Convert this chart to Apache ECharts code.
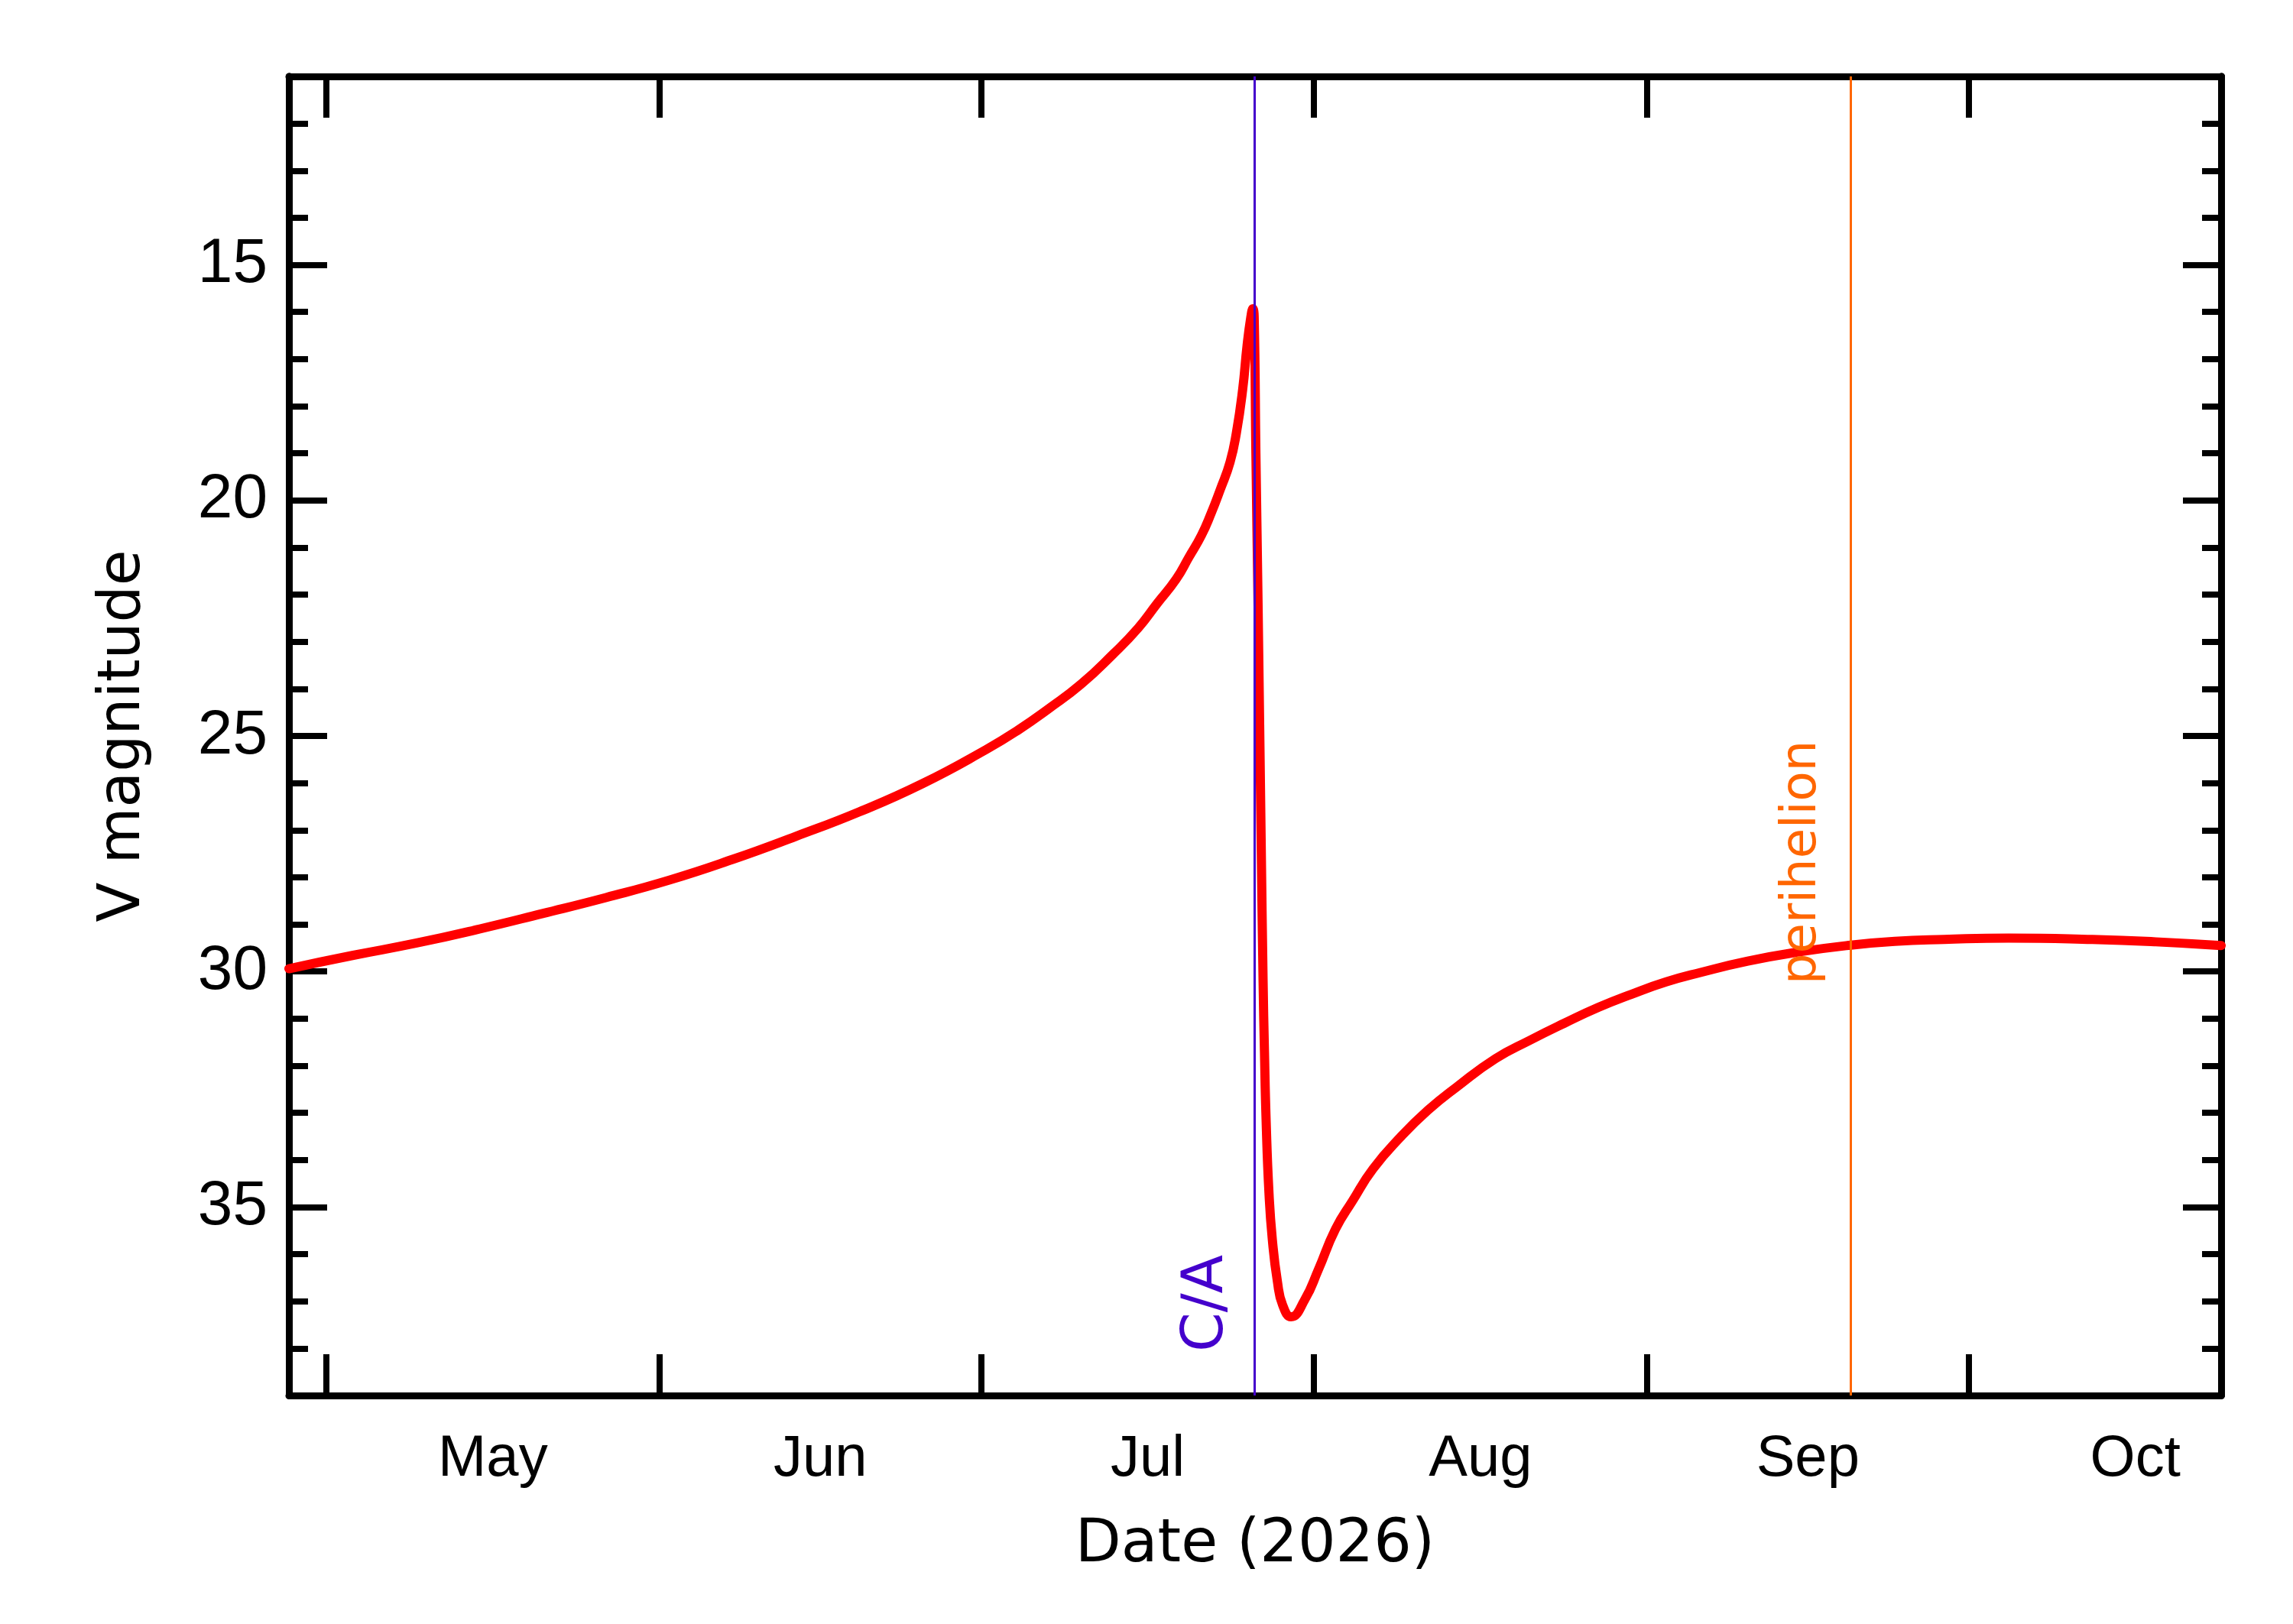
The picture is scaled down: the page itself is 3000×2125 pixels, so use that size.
<!DOCTYPE html>
<html>
<head>
<meta charset="utf-8">
<title>V magnitude (2026)</title>
<script src="https://cdn.jsdelivr.net/npm/echarts@6/dist/echarts.min.js"></script>
<style>
  html, body { margin: 0; padding: 0; background: #ffffff; }
  #main { width: 3000px; height: 2125px; }
</style>
</head>
<body>
<div id="main"></div>
<script>
// light curve (local time)
const dates = [
  '2026-04-27 12:00', '2026-05-03 09:50', '2026-05-09 07:25', '2026-05-15 05:15',
  '2026-05-21 03:05', '2026-05-27 00:45', '2026-06-01 22:20', '2026-06-07 19:55',
  '2026-06-13 17:30', '2026-06-19 15:20', '2026-06-25 12:55', '2026-07-01 10:35',
  '2026-07-04 09:35', '2026-07-07 08:25', '2026-07-10 07:10', '2026-07-13 06:00',
  '2026-07-15 14:40', '2026-07-17 09:05', '2026-07-19 03:50', '2026-07-20 07:55',
  '2026-07-21 12:15', '2026-07-22 09:35', '2026-07-23 06:40', '2026-07-24 04:05',
  '2026-07-24 18:15', '2026-07-25 08:25', '2026-07-25 18:15', '2026-07-26 02:55',
  '2026-07-26 07:10', '2026-07-26 10:05', '2026-07-26 13:55', '2026-07-26 18:55',
  '2026-07-27 01:40', '2026-07-27 06:00', '2026-07-27 09:05', '2026-07-27 12:55',
  '2026-07-27 19:10', '2026-07-28 02:40', '2026-07-28 14:10', '2026-07-29 01:40',
  '2026-07-29 20:40', '2026-07-31 03:05', '2026-08-01 09:35', '2026-08-02 23:45',
  '2026-08-04 13:55', '2026-08-06 11:45', '2026-08-09 00:45', '2026-08-11 13:55',
  '2026-08-14 07:10', '2026-08-17 21:35', '2026-08-21 02:25', '2026-08-24 07:10',
  '2026-08-27 12:00', '2026-08-30 14:25', '2026-09-02 19:10', '2026-09-06 00:00',
  '2026-09-10 09:35', '2026-09-15 00:00', '2026-09-20 00:00', '2026-09-24 02:25',
  '2026-09-28 16:50', '2026-10-04 16:50', '2026-10-12 12:00', '2026-10-18 09:35',
  '2026-10-24 12:00'
];
const vmag = [
  29.94, 29.66, 29.40, 29.10,
  28.77, 28.43, 28.06, 27.62,
  27.13, 26.61, 26.01, 25.29,
  24.88, 24.41, 23.90, 23.27,
  22.71, 22.19, 21.67, 21.21,
  20.74, 20.28, 19.76, 19.19,
  18.57, 17.64, 16.71, 16.09,
  15.93, 16.10, 19.00, 22.30,
  27.20, 30.20, 31.70, 33.20,
  34.70, 35.69, 36.59, 37.08,
  37.33, 36.97, 36.33, 35.47,
  34.87, 34.19, 33.52, 32.95,
  32.45, 31.85, 31.46, 31.10,
  30.76, 30.48, 30.22, 30.02,
  29.78, 29.59, 29.44, 29.36,
  29.32, 29.29, 29.32, 29.37,
  29.45
];

const monthStarts = ['2026-05-01 00:00', '2026-06-01 00:00', '2026-07-01 00:00',
                     '2026-08-01 00:00', '2026-09-01 00:00', '2026-10-01 00:00'];
const monthMids = ['2026-05-16 12:00', '2026-06-16 00:00', '2026-07-16 12:00',
                   '2026-08-16 12:00', '2026-09-16 00:00', '2026-10-16 12:00'];
const monthNames = ['Jan', 'Feb', 'Mar', 'Apr', 'May', 'Jun',
                    'Jul', 'Aug', 'Sep', 'Oct', 'Nov', 'Dec'];

const magMajor = [15, 20, 25, 30, 35];
const magMinor = [12, 13, 14, 16, 17, 18, 19, 21, 22, 23, 24, 26, 27, 28, 29,
                  31, 32, 33, 34, 36, 37, 38];

const dateMin = '2026-04-27 12:00';
const dateMax = '2026-10-24 12:00';
const magMin = 11;
const magMax = 39;

const caDate = '2026-07-26 11:00';     // close approach
const periDate = '2026-09-20 00:00';   // perihelion

// 'YYYY-MM-DD HH:mm' -> local timestamp
function ts(s) {
  const m = s.match(/(\d+)-(\d+)-(\d+) (\d+):(\d+)/);
  return new Date(+m[1], +m[2] - 1, +m[3], +m[4], +m[5]).getTime();
}

const seriesData = dates.map((d, i) => [ts(d), vmag[i]]);

function makeY(position, ticks, len, withLabels) {
  return {
    type: 'value',
    position: position,
    min: magMin,
    max: magMax,
    inverse: true,
    name: withLabels ? 'V magnitude' : '',
    nameLocation: 'middle',
    nameGap: 178,
    nameTextStyle: { fontFamily: 'DejaVu Sans', fontSize: 76, color: '#000' },
    axisLine: { show: true, onZero: false, lineStyle: { color: '#000', width: 9 } },
    axisTick: { show: true, inside: true, length: len, customValues: ticks,
                lineStyle: { color: '#000', width: 8 } },
    axisLabel: { show: withLabels, customValues: ticks, margin: 28,
                 fontFamily: 'Liberation Sans', fontSize: 82, color: '#000' },
    splitLine: { show: false }
  };
}

// dates go on a plain value axis of timestamps
function makeX(position, withLabels) {
  return {
    type: 'value',
    position: position,
    min: ts(dateMin),
    max: ts(dateMax),
    name: withLabels ? 'Date (2026)' : '',
    nameLocation: 'middle',
    nameGap: 158,
    nameTextStyle: { fontFamily: 'DejaVu Sans', fontSize: 78, color: '#000' },
    axisLine: { show: true, onZero: false, lineStyle: { color: '#000', width: 9 } },
    axisTick: { show: true, inside: true, length: 54, customValues: monthStarts.map(ts),
                lineStyle: { color: '#000', width: 8 } },
    axisLabel: {
      show: withLabels,
      customValues: monthMids.map(ts),
      margin: 46,
      fontFamily: 'Liberation Sans',
      fontSize: 76,
      color: '#000',
      formatter: v => monthNames[new Date(v).getMonth()]
    },
    splitLine: { show: false }
  };
}

const chart = echarts.init(document.getElementById('main'), null, { renderer: 'canvas' });

const option = {
  animation: false,
  backgroundColor: '#ffffff',
  grid: { left: 378, right: 94, top: 100, bottom: 299 },
  xAxis: [makeX('bottom', true), makeX('top', false)],
  yAxis: [
    makeY('left', magMajor, 50, true),
    makeY('left', magMinor, 25, false),
    makeY('right', magMajor, 50, false),
    makeY('right', magMinor, 25, false)
  ],
  series: [{
    type: 'line',
    xAxisIndex: 0,
    yAxisIndex: 0,
    data: seriesData,
    showSymbol: false,
    smooth: 0.5,
    lineStyle: { color: '#ff0000', width: 12, join: 'round', cap: 'round' },
    silent: true,
    markLine: {
      silent: true,
      symbol: ['none', 'none'],
      animation: false,
      data: [
        [
          { coord: [ts(caDate), magMax],
            lineStyle: { color: '#4400cc', width: 3, type: 'solid' },
            label: { show: true, formatter: 'C/A', position: 'insideStartTop',
                     distance: [57, 25], color: '#4400cc',
                     fontFamily: 'DejaVu Sans', fontSize: 74 } },
          { coord: [ts(caDate), magMin] }
        ],
        [
          { coord: [ts(periDate), magMax],
            lineStyle: { color: '#ff6600', width: 3, type: 'solid' },
            label: { show: true, formatter: 'perihelion', position: 'insideStartTop',
                     distance: [538, 31], color: '#ff6600',
                     fontFamily: 'DejaVu Sans', fontSize: 64 } },
          { coord: [ts(periDate), magMin] }
        ]
      ]
    }
  }]
};

chart.setOption(option);
</script>
</body>
</html>
